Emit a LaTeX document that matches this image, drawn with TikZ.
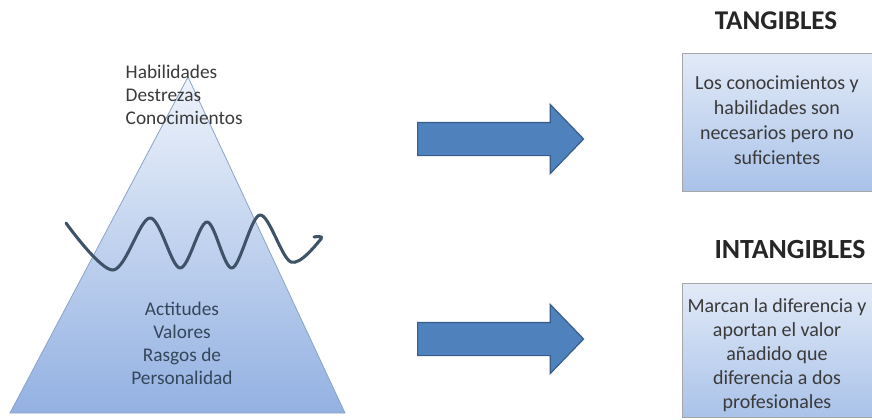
\documentclass[tikz,border=0pt]{standalone}
\usepackage{fontspec}
\setmainfont{Carlito}
\usetikzlibrary{shapes.arrows, positioning}

\definecolor{txtgray}{HTML}{3A3A3A}
\definecolor{txtblue}{HTML}{34465A}
\definecolor{wavecol}{HTML}{3E5268}
\definecolor{arrfill}{HTML}{4F81BD}
\definecolor{arrline}{HTML}{385D8A}
\definecolor{pyrline}{HTML}{8BA3C8}
\definecolor{pyrtopc}{HTML}{EEF3FB}
\definecolor{pyrbotc}{HTML}{93B1E2}
\definecolor{boxtopc}{HTML}{E2EAF7}
\definecolor{boxbotc}{HTML}{A9C2E9}

\begin{document}
\begin{tikzpicture}[x=0.75pt, y=-0.75pt,
        pyr/.style    = {draw=pyrline, line width=0.6pt, top color=pyrtopc, bottom color=pyrbotc},
        wave/.style   = {draw=wavecol, line width=2.3pt, line cap=round, line join=round},
        blockarr/.style = {single arrow, draw=arrline, fill=arrfill, line width=0.9pt, anchor=tail,
                           inner xsep=0pt, inner ysep=12pt, single arrow head extend=13.5pt,
                           single arrow tip angle=92, single arrow head indent=0pt, minimum height=124.5pt},
        infobox/.style = {draw=gray!70, line width=0.6pt, top color=boxtopc, bottom color=boxbotc,
                          minimum width=142.5pt, inner sep=0pt},
        boxtxt/.style = {align=center, text=txtgray, font=\fontsize{15}{18.6}\selectfont},
        pyrtxt/.style = {font=\fontsize{14.5}{17.3}\selectfont},
        head/.style   = {font=\bfseries\fontsize{20.3}{24}\selectfont, text=black!85}
    ]
        \useasboundingbox (0,0) rectangle (872,419);

        % iceberg
        \path[pyr] (188,77) -- (10,413) -- (345,413) -- cycle;
        \node[pyrtxt, align=left, anchor=west, text=txtgray] (visible) at (121,95)
            {Habilidades\\Destrezas\\Conocimientos};
        \node[pyrtxt, align=center, text=txtblue] (hidden) at (182,343)
            {Actitudes\\Valores\\Rasgos de\\Personalidad};
        \draw[wave] plot[smooth, tension=0.55] coordinates
            {(66,223) (113,270) (150,218) (180,268) (207,222) (232,268) (260,215) (291,262) (321,239) (314,237)};

        % arrows
        \node[blockarr] (arrT) at (417,139) {};
        \node[blockarr] (arrI) at (417,339) {};

        % right side
        \node[head] (tang) at (776,21) {TANGIBLES};
        \node[infobox, minimum height=104pt] (tangbox) at (777,122.5) {};
        \node[boxtxt] (tangtxt) at (777,120)
            {Los conocimientos y\\habilidades son\\necesarios pero no\\suficientes};

        \node[head, font=\bfseries\fontsize{20.8}{24}\selectfont] (intang) at (790,249) {INTANGIBLES};
        \node[infobox, minimum height=101pt] (intangbox) at (777,350.5) {};
        \node[boxtxt, font=\fontsize{15}{18}\selectfont] (intangtxt) at (777,355)
            {Marcan la diferencia y\\aportan el valor\\añadido que\\diferencia a dos\\profesionales};
    \end{tikzpicture}
\end{document}
